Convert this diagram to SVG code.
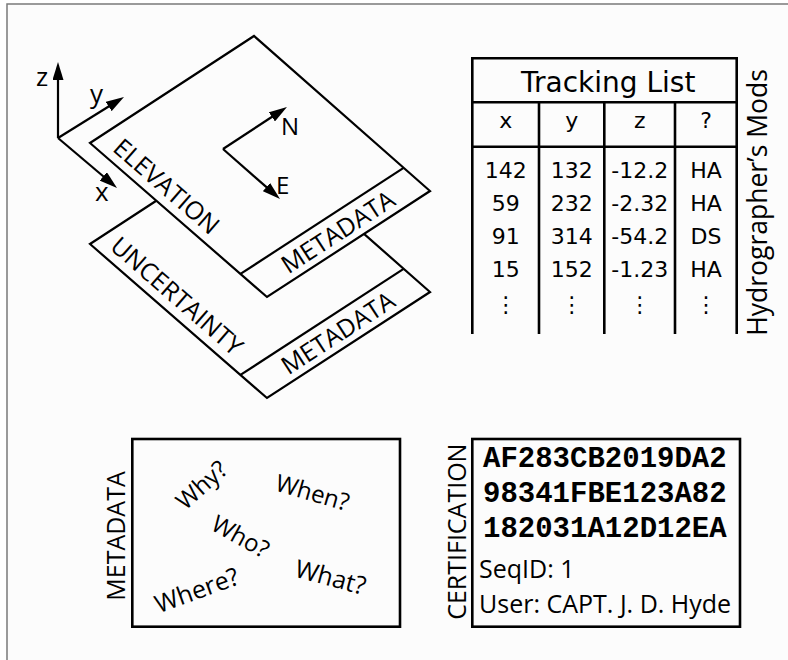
<svg xmlns="http://www.w3.org/2000/svg" width="788" height="660" viewBox="0 0 788 660">
<defs>
<style>
.ln{fill:none;stroke:#000;stroke-width:2.2}
.lay{fill:#fcfcfc;stroke:#000;stroke-width:2.2;stroke-linejoin:miter}
.box{fill:none;stroke:#000;stroke-width:2.6}
.tl{fill:none;stroke:#000;stroke-width:2.6}
.s{font-family:"Open Sans","Noto Sans","Liberation Sans",sans-serif;fill:#000}
.t{font-family:"DejaVu Sans","Liberation Sans",sans-serif;fill:#000;font-size:22px;text-anchor:middle}
.m{font-family:"Liberation Mono","DejaVu Sans Mono",monospace;font-weight:bold;font-size:29px;fill:#000}
</style>
<marker id="ah" markerWidth="18" markerHeight="11" refX="8" refY="5.5" orient="auto" markerUnits="userSpaceOnUse">
<path d="M0,0 L18,5.5 L0,11 z" fill="#000"/>
</marker>
</defs>
<rect x="0" y="0" width="788" height="660" fill="#ffffff"/>
<rect x="7" y="4" width="800" height="680" fill="#fcfcfc" stroke="#7a7a7a" stroke-width="1.5"/>

<g id="axes">
<line class="ln" x1="58" y1="138" x2="58" y2="72" marker-end="url(#ah)"/>
<line class="ln" x1="58" y1="138" x2="115.5" y2="102.3" marker-end="url(#ah)"/>
<line class="ln" x1="58" y1="138" x2="109.4" y2="181.5" marker-end="url(#ah)"/>
<text class="s" x="36" y="86" font-size="26">z</text>
<text class="s" x="90" y="103" font-size="26">y</text>
<text class="s" x="95" y="201" font-size="26">x</text>
</g>

<g id="uncertainty-layer">
<polygon class="lay" points="90,244 254,137 430,292 267,398"/>
<line class="ln" x1="403.6" y1="268.8" x2="240.5" y2="374.9"/>
<text class="s" font-size="25" transform="translate(108.7,248.4) rotate(41)">UNCERTAINTY</text>
<text class="s" font-size="25" text-anchor="middle" transform="translate(342.8,340.3) rotate(-33)">METADATA</text>
</g>

<g id="elevation-layer">
<polygon class="lay" points="90,143 254,36 430,191 267,297"/>
<line class="ln" x1="403.6" y1="167.8" x2="240.5" y2="273.9"/>
<text class="s" font-size="25" transform="translate(111.5,150.2) rotate(41)">ELEVATION</text>
<text class="s" font-size="25" text-anchor="middle" transform="translate(342.8,239.3) rotate(-33)">METADATA</text>
</g>

<g id="compass">
<line class="ln" x1="223" y1="149" x2="278.6" y2="112.5" marker-end="url(#ah)"/>
<line class="ln" x1="223" y1="149" x2="272.5" y2="192.4" marker-end="url(#ah)"/>
<text class="s" x="281" y="135" font-size="24">N</text>
<text class="s" x="276" y="194" font-size="24">E</text>
</g>

<g id="tracking-list">
<line class="tl" x1="472.3" y1="58.3" x2="736.7" y2="58.3"/>
<line class="tl" x1="472.3" y1="102.3" x2="736.7" y2="102.3"/>
<line class="tl" x1="472.3" y1="146.7" x2="736.7" y2="146.7"/>
<line class="tl" x1="472.3" y1="57" x2="472.3" y2="334"/>
<line class="tl" x1="736.7" y1="57" x2="736.7" y2="334"/>
<line class="tl" x1="539" y1="102.3" x2="539" y2="334"/>
<line class="tl" x1="604.3" y1="102.3" x2="604.3" y2="334"/>
<line class="tl" x1="675" y1="102.3" x2="675" y2="334"/>
<text x="521" y="91.7" font-family="DejaVu Sans, Liberation Sans, sans-serif" font-size="28">Tracking List</text>
<text class="t" x="505.7" y="128">x</text>
<text class="t" x="571.7" y="128">y</text>
<text class="t" x="639.7" y="128">z</text>
<text class="t" x="706" y="128">?</text>
<text class="t" x="505.7" y="178">142</text>
<text class="t" x="571.7" y="178">132</text>
<text class="t" x="639.7" y="178">-12.2</text>
<text class="t" x="706" y="178">HA</text>
<text class="t" x="505.7" y="211">59</text>
<text class="t" x="571.7" y="211">232</text>
<text class="t" x="639.7" y="211">-2.32</text>
<text class="t" x="706" y="211">HA</text>
<text class="t" x="505.7" y="244">91</text>
<text class="t" x="571.7" y="244">314</text>
<text class="t" x="639.7" y="244">-54.2</text>
<text class="t" x="706" y="244">DS</text>
<text class="t" x="505.7" y="277">15</text>
<text class="t" x="571.7" y="277">152</text>
<text class="t" x="639.7" y="277">-1.23</text>
<text class="t" x="706" y="277">HA</text>
<text class="t" x="505.7" y="312">⋮</text>
<text class="t" x="571.7" y="312">⋮</text>
<text class="t" x="639.7" y="312">⋮</text>
<text class="t" x="706" y="312">⋮</text>
<text class="s" font-size="26.5" text-anchor="middle" transform="translate(767,202.5) rotate(-90)">Hydrographer’s Mods</text>
</g>

<g id="metadata-box">
<rect class="box" x="132.3" y="439" width="267.7" height="187.7"/>
<text class="s" font-size="25" text-anchor="middle" transform="translate(125,536) rotate(-90)">METADATA</text>
<text class="s" font-size="24" text-anchor="middle" transform="translate(207.2,491.3) rotate(-42)">Why?</text>
<text class="s" font-size="24" text-anchor="middle" transform="translate(310.2,500.7) rotate(16)">When?</text>
<text class="s" font-size="24" text-anchor="middle" transform="translate(236.4,543.9) rotate(29)">Who?</text>
<text class="s" font-size="25" text-anchor="middle" transform="translate(199.9,598.5) rotate(-20)">Where?</text>
<text class="s" font-size="25" text-anchor="middle" transform="translate(328.3,585.7) rotate(15)">What?</text>
</g>

<g id="certification-box">
<rect class="box" x="472.3" y="439" width="267.7" height="187.7"/>
<text class="s" font-size="25" text-anchor="middle" transform="translate(466,531.7) rotate(-90)">CERTIFICATION</text>
<text class="m" x="483" y="466.7">AF283CB2019DA2</text>
<text class="m" x="483" y="501.7">98341FBE123A82</text>
<text class="m" x="483" y="536.7">182031A12D12EA</text>
<text class="s" x="479" y="578.3" font-size="25">SeqID: 1</text>
<text class="s" x="479" y="613.3" font-size="25">User: CAPT. J. D. Hyde</text>
</g>
</svg>
